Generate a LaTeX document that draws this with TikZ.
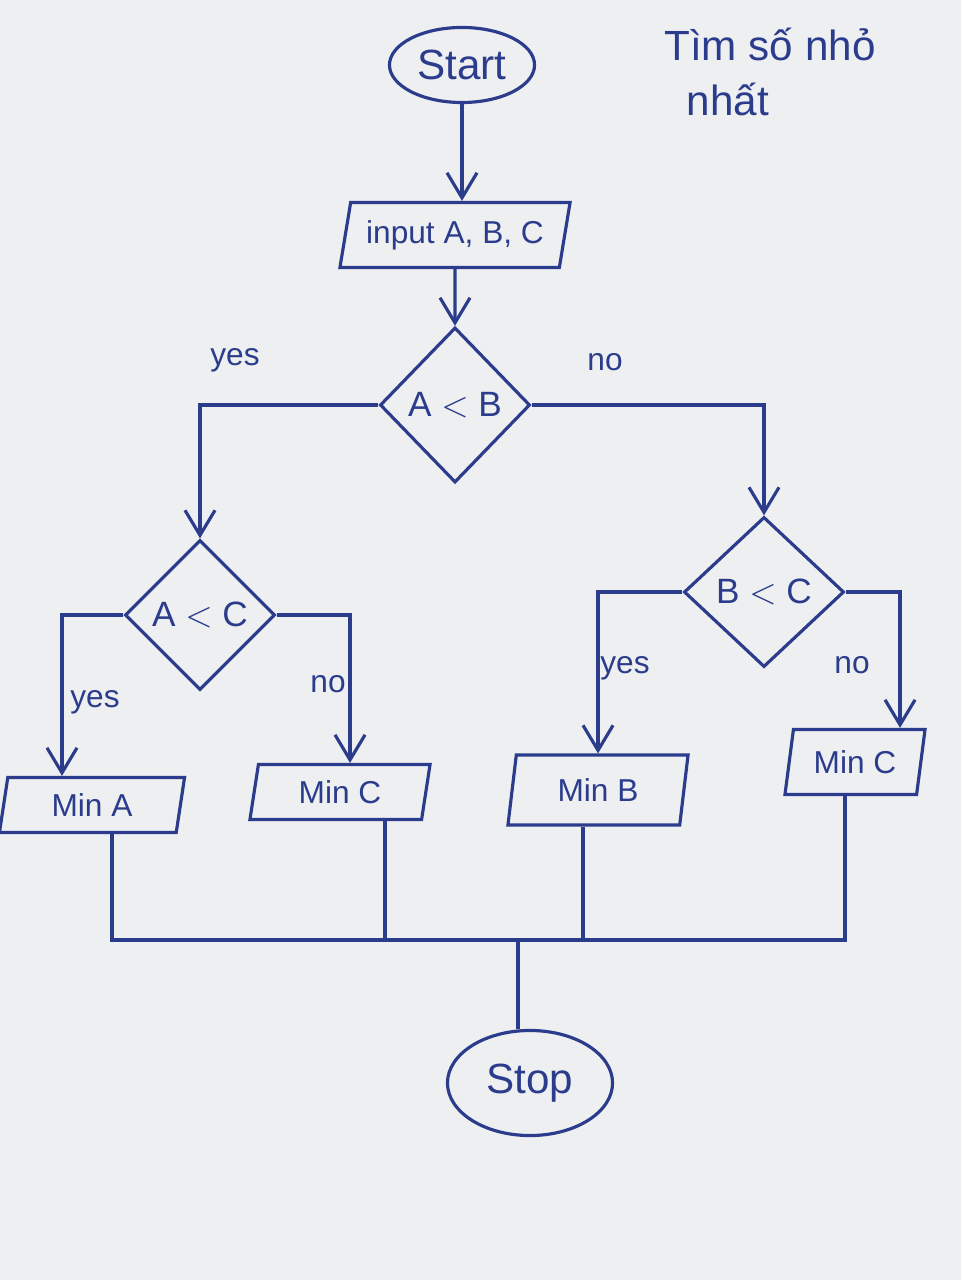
\documentclass[tikz,border=0pt]{standalone}
\usepackage{fontspec}
\setmainfont{Liberation Sans}
\usepackage{xcolor}
\usetikzlibrary{shapes.geometric,arrows.meta,positioning,calc}
\definecolor{pen}{HTML}{2B3C8C}
\definecolor{paper}{HTML}{EEEFF1}

\tikzset{
  line/.style={draw=pen,line width=0.9pt},
  arr/.style={line,-{Straight Barb[length=2.5mm,width=3mm]}},
  terminal/.style={ellipse,line,text=pen,font=\large,inner sep=0pt},
  io/.style={trapezium,trapezium left angle=70,trapezium right angle=110,
    trapezium stretches body,line,text=pen,font=\small,inner sep=0pt},
  test/.style={diamond,line,text=pen,font=\normalsize,inner sep=0pt},
  lbl/.style={text=pen,font=\small}
}

\begin{document}
\begin{tikzpicture}[x=0.01cm,y=-0.01cm]
        \fill[paper] (0,0) rectangle (961,1280);
        \useasboundingbox (0,0) rectangle (961,1280);
        % title
        \node[lbl,font=\large] (title) at (770,45) {Tìm số nhỏ};
        \node[lbl,font=\large] (title2) at (728,100) {nhất};
        % main column
        \node[terminal,minimum width=1.45cm,minimum height=0.75cm] (start) at (462,65) {Start};
        \node[io,minimum width=2.3cm,minimum height=0.65cm] (input) at (455,235) {input A, B, C};
        \node[test,minimum width=1.5cm,minimum height=1.55cm] (ab) at (455,405) {A $<$ B};
        \node[test,minimum width=1.5cm,minimum height=1.5cm] (ac) at (200,615) {A $<$ C};
        \node[test,minimum width=1.6cm,minimum height=1.5cm] (bc) at (764,592) {B $<$ C};
        % results
        \node[io,minimum width=1.85cm,minimum height=0.55cm] (mina) at (92,805) {Min A};
        \node[io,minimum width=1.8cm,minimum height=0.55cm] (minc) at (340,792) {Min C};
        \node[io,minimum width=1.8cm,minimum height=0.7cm] (minb) at (598,790) {Min B};
        \node[io,minimum width=1.4cm,minimum height=0.65cm] (mincc) at (855,762) {Min C};
        \node[terminal,minimum width=1.65cm,minimum height=1.05cm] (stop) at (530,1083) {Stop};
        \coordinate (join) at (518,940);
        % flow
        \draw[arr] (start) -- (start |- input.north);
        \draw[arr] (input) -- (ab);
        \draw[arr] (ab.west) -| (ac.north);
        \draw[arr] (ab.east) -| (bc.north);
        \draw[arr] (ac.west) -| ([xshift=-0.3cm]mina.north);
        \draw[arr] (ac.east) -| ([xshift=0.1cm]minc.north);
        \draw[arr] (bc.west) -| (minb.north);
        \draw[arr] (bc.east) -| ([xshift=0.45cm]mincc.north);
        % merge
        \draw[line] ([xshift=0.2cm]mina.south) |- ([xshift=-0.1cm]mincc.south |- join)
          -- ([xshift=-0.1cm]mincc.south);
        \draw[line] ([xshift=0.45cm]minc.south) -- ([xshift=0.45cm]minc.south |- join);
        \draw[line] ([xshift=-0.15cm]minb.south) -- ([xshift=-0.15cm]minb.south |- join);
        \draw[line] (join) -- (join |- stop.north);
        % branch labels
        \node[lbl] (y1) at (235,360) {yes};
        \node[lbl] (n1) at (605,362) {no};
        \node[lbl] (y2) at (95,702) {yes};
        \node[lbl] (n2) at (328,684) {no};
        \node[lbl] (y3) at (625,668) {yes};
        \node[lbl] (n3) at (852,665) {no};
      \end{tikzpicture}
\end{document}
